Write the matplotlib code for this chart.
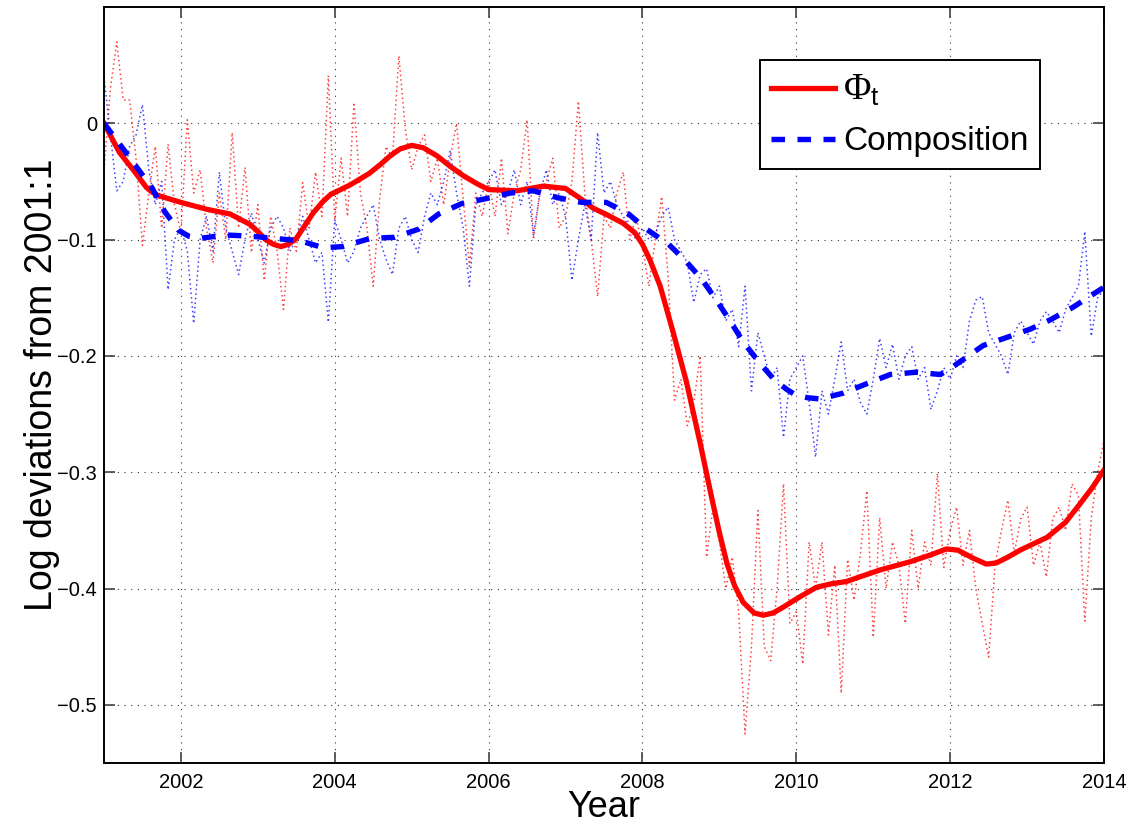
import numpy as np
import matplotlib
matplotlib.use("Agg")
import matplotlib.pyplot as plt

plt.rcParams['font.family'] = ['Liberation Sans', 'DejaVu Sans']
plt.rcParams['mathtext.fontset'] = 'custom'
plt.rcParams['mathtext.rm'] = 'Liberation Serif'
plt.rcParams['mathtext.sf'] = 'Liberation Sans'

# monthly observations, 2001:1 .. 2014:1
months = np.arange(157)
t_month = 2001 + months / 12.0

phi_raw = [
    -0.040, 0.030, 0.070, 0.020, 0.020, -0.030, -0.105, -0.060, -0.020, -0.090, -0.018, -0.070,
    -0.094, 0.003, -0.060, -0.040, -0.090, -0.120, -0.060, -0.100, -0.008, -0.090, -0.038, -0.111,
    -0.070, -0.135, -0.080, -0.110, -0.160, -0.090, -0.110, -0.051, -0.090, -0.042, -0.080, 0.041,
    -0.083, -0.030, -0.080, 0.018, -0.060, -0.089, -0.140, -0.065, -0.020, -0.030, 0.058, -0.005,
    -0.040, -0.020, -0.010, -0.050, -0.030, -0.070, -0.030, 0.000, -0.063, -0.123, -0.060, -0.080,
    -0.050, -0.080, -0.030, -0.095, -0.060, -0.040, 0.003, -0.100, -0.060, -0.050, -0.030, -0.090,
    -0.080, -0.050, 0.019, -0.060, -0.100, -0.149, -0.080, -0.090, -0.060, -0.042, -0.100, -0.080,
    -0.106, -0.140, -0.100, -0.063, -0.132, -0.238, -0.220, -0.260, -0.240, -0.200, -0.373, -0.330,
    -0.360, -0.400, -0.373, -0.420, -0.525, -0.450, -0.333, -0.450, -0.462, -0.400, -0.310, -0.430,
    -0.420, -0.465, -0.360, -0.400, -0.360, -0.440, -0.380, -0.490, -0.375, -0.410, -0.370, -0.316,
    -0.442, -0.339, -0.400, -0.360, -0.380, -0.430, -0.350, -0.400, -0.360, -0.380, -0.301, -0.382,
    -0.350, -0.330, -0.380, -0.350, -0.400, -0.430, -0.459, -0.380, -0.350, -0.324, -0.370, -0.340,
    -0.330, -0.380, -0.360, -0.390, -0.340, -0.330, -0.350, -0.310, -0.320, -0.428, -0.340, -0.300,
    -0.272,
]

comp_raw = [
    0.040, -0.010, -0.058, -0.050, -0.020, -0.010, 0.016, -0.040, -0.070, -0.050, -0.143, -0.100,
    -0.090, -0.110, -0.172, -0.100, -0.080, -0.110, -0.042, -0.090, -0.110, -0.130, -0.100, -0.077,
    -0.100, -0.120, -0.090, -0.080, -0.090, -0.110, -0.100, -0.080, -0.100, -0.120, -0.111, -0.171,
    -0.083, -0.100, -0.120, -0.110, -0.090, -0.080, -0.070, -0.100, -0.117, -0.130, -0.090, -0.080,
    -0.100, -0.111, -0.080, -0.060, -0.070, -0.050, -0.024, -0.060, -0.089, -0.140, -0.070, -0.060,
    -0.050, -0.040, -0.070, -0.060, -0.040, -0.070, -0.050, -0.096, -0.060, -0.040, -0.070, -0.060,
    -0.080, -0.135, -0.100, -0.070, -0.100, -0.008, -0.060, -0.050, -0.070, -0.080, -0.090, -0.100,
    -0.090, -0.100, -0.095, -0.080, -0.072, -0.100, -0.110, -0.120, -0.154, -0.130, -0.125, -0.150,
    -0.140, -0.170, -0.160, -0.192, -0.140, -0.230, -0.180, -0.200, -0.220, -0.210, -0.270, -0.220,
    -0.210, -0.200, -0.240, -0.287, -0.230, -0.250, -0.220, -0.188, -0.230, -0.220, -0.240, -0.250,
    -0.220, -0.185, -0.210, -0.190, -0.220, -0.200, -0.192, -0.220, -0.210, -0.246, -0.230, -0.210,
    -0.220, -0.200, -0.210, -0.170, -0.152, -0.149, -0.180, -0.190, -0.200, -0.216, -0.180, -0.170,
    -0.180, -0.190, -0.170, -0.162, -0.170, -0.180, -0.160, -0.150, -0.140, -0.093, -0.183, -0.150,
    -0.143,
]

# trend components
phi_t = [2001.0, 2001.2, 2001.38, 2001.55, 2001.62, 2001.7, 2001.85, 2002.0, 2002.34, 2002.64,
         2002.9, 2003.0, 2003.1, 2003.2, 2003.3, 2003.4, 2003.5, 2003.6, 2003.72, 2003.85,
         2003.95, 2004.2, 2004.45, 2004.6, 2004.72, 2004.85, 2005.0, 2005.15, 2005.33, 2005.5,
         2005.67, 2005.85, 2006.0, 2006.37, 2006.71, 2007.0, 2007.2, 2007.36, 2007.55, 2007.75,
         2007.9, 2008.0, 2008.1, 2008.23, 2008.4, 2008.57, 2008.75, 2008.9, 2009.0, 2009.1,
         2009.2, 2009.31, 2009.45, 2009.57, 2009.7, 2009.83, 2010.05, 2010.26, 2010.45, 2010.65,
         2011.09, 2011.48, 2011.75, 2011.95, 2012.1, 2012.3, 2012.47, 2012.6, 2012.75, 2012.91,
         2013.26, 2013.5, 2013.69, 2013.85, 2014.0]
phi_trend = [0.0, -0.025, -0.040, -0.055, -0.059, -0.062, -0.065, -0.068, -0.074, -0.078,
             -0.087, -0.093, -0.100, -0.104, -0.106, -0.104, -0.099, -0.089, -0.077, -0.067,
             -0.061, -0.053, -0.043, -0.035, -0.028, -0.022, -0.019, -0.021, -0.028, -0.037,
             -0.045, -0.052, -0.057, -0.058, -0.054, -0.056, -0.065, -0.073, -0.079, -0.086,
             -0.094, -0.104, -0.118, -0.140, -0.180, -0.222, -0.275, -0.322, -0.352, -0.379,
             -0.398, -0.412, -0.421, -0.423, -0.421, -0.416, -0.407, -0.399, -0.396, -0.394,
             -0.384, -0.377, -0.371, -0.366, -0.367, -0.374, -0.379, -0.378, -0.373, -0.367,
             -0.356, -0.343, -0.327, -0.313, -0.298]

comp_t = [2001.0, 2001.25, 2001.45, 2001.62, 2001.79, 2001.97, 2002.1, 2002.25, 2002.57, 2002.9,
          2003.22, 2003.55, 2003.85, 2004.1, 2004.46, 2004.78, 2005.09, 2005.35, 2005.65, 2005.95,
          2006.28, 2006.58, 2006.9, 2007.21, 2007.53, 2007.82, 2008.05, 2008.34, 2008.57, 2008.77,
          2008.96, 2009.14, 2009.31, 2009.51, 2009.72, 2009.88, 2010.0, 2010.15, 2010.31, 2010.61,
          2010.91, 2011.22, 2011.56, 2011.87, 2012.0, 2012.17, 2012.43, 2012.74, 2013.04, 2013.3,
          2013.6, 2013.88, 2014.0]
comp_trend = [0.0, -0.022, -0.040, -0.055, -0.076, -0.092, -0.097, -0.099, -0.096, -0.097,
              -0.099, -0.101, -0.107, -0.106, -0.099, -0.098, -0.091, -0.078, -0.069, -0.065,
              -0.060, -0.058, -0.064, -0.068, -0.068, -0.078, -0.091, -0.104, -0.119, -0.134,
              -0.152, -0.170, -0.188, -0.205, -0.221, -0.229, -0.234, -0.236, -0.237, -0.232,
              -0.224, -0.216, -0.214, -0.216, -0.211, -0.203, -0.191, -0.184, -0.177, -0.169,
              -0.158, -0.146, -0.141]

xticks = [2002, 2004, 2006, 2008, 2010, 2012, 2014]
yticks = [-0.5, -0.4, -0.3, -0.2, -0.1, 0]

fig = plt.figure(figsize=(11.29, 8.25), dpi=100)
ax = fig.add_axes([0.0921, 0.0752, 0.8858, 0.9163])

ax.plot(t_month, phi_raw, color='red', lw=1.1, ls=(0, (1, 2)), alpha=0.75)
ax.plot(t_month, comp_raw, color='blue', lw=1.1, ls=(0, (1, 2)), alpha=0.75)
ax.plot(phi_t, phi_trend, color='red', lw=3.8, label=r'$\Phi_{\mathsf{t}}$',
        solid_joinstyle='round')
ax.plot(comp_t, comp_trend, color='blue', lw=3.9, ls=(0, (2.5, 2.3)), label='Composition')

ax.set_xlim(2001, 2014)
ax.set_ylim(-0.55, 0.1)
ax.set_xticks(xticks)
ax.set_yticks(yticks)
ax.yaxis.set_major_formatter(matplotlib.ticker.FuncFormatter(
    lambda v, p: ('%g' % v).replace('-', '\u2212')))

ax.grid(True, color='#333333', lw=0.8, ls=(0, (1, 5)))
ax.tick_params(direction='in', length=8, width=1.2, labelsize=14.5, color='#444444',
               top=True, right=True)
ax.tick_params(axis='y', pad=5)
ax.tick_params(axis='x', pad=7)
for sp in ax.spines.values():
    sp.set_linewidth(1.4)

ax.set_xlabel('Year', fontsize=26, va='baseline')
ax.xaxis.set_label_coords(0.5, -0.0714)
ax.set_ylabel('Log deviations from 2001:1', fontsize=27, labelpad=-2)

leg = ax.legend(loc='upper right', bbox_to_anchor=(0.936, 0.930), fontsize=24,
                fancybox=False, framealpha=1, edgecolor='black', handlelength=1.9,
                handletextpad=0.25, labelspacing=0.55, borderpad=0.35, borderaxespad=0)
leg.get_frame().set_linewidth(1.4)
leg.get_texts()[0].set_fontsize(27)

fig.savefig('out.png', dpi=100)
